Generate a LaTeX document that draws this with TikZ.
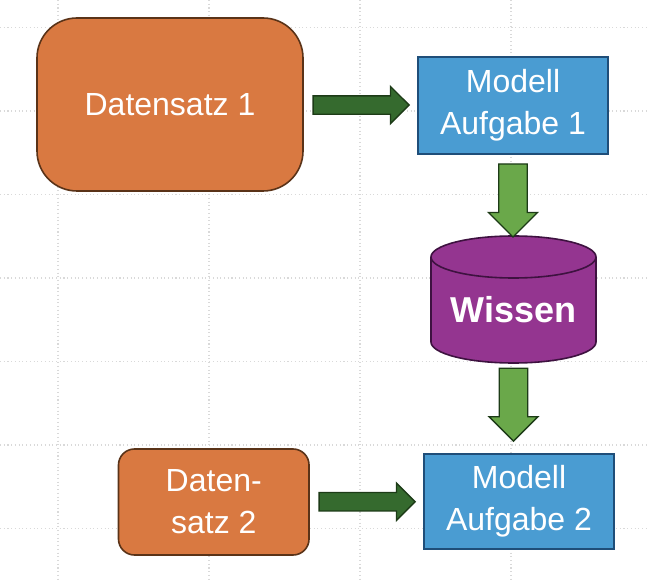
\documentclass[tikz,border=0pt]{standalone}
\usepackage{fontspec}
\setmainfont{Liberation Sans}
\usetikzlibrary{shapes.arrows,backgrounds}

\definecolor{datenorange}{HTML}{D97941}
\definecolor{datenrand}{HTML}{5A3318}
\definecolor{modellblau}{HTML}{4A9CD2}
\definecolor{modellrand}{HTML}{1F4E79}
\definecolor{wissenlila}{HTML}{943590}
\definecolor{wissenrand}{HTML}{3E1240}
\definecolor{pfeildunkel}{HTML}{356A2E}
\definecolor{pfeilhell}{HTML}{6AA84A}
\definecolor{pfeilrand}{HTML}{1D3B17}
\definecolor{raster}{HTML}{D9D9D9}

\tikzset{
  datenbox/.style={draw=datenrand, fill=datenorange, line width=1.2pt, text=white,
    inner sep=0pt, align=center, font=\fontsize{24}{31.5}\selectfont},
  modellbox/.style={draw=modellrand, fill=modellblau, line width=1.2pt, text=white,
    inner sep=0pt, align=center, minimum width=142.5pt,
    font=\fontsize{24}{31.5}\selectfont},
  speicher/.style={inner sep=0pt, outer sep=0pt, text=white,
    minimum width=123.75pt, minimum height=95.25pt, text height=35pt, text depth=0pt,
    font=\fontsize{27}{31}\selectfont\bfseries},
  zylinder/.style={draw=wissenrand, fill=wissenlila, line width=1.2pt},
  deckel/.style={x radius=61.875pt, y radius=15.75pt},
  pfeil/.style={single arrow, draw=pfeilrand, fill=pfeildunkel, line width=1pt,
    inner xsep=0pt, inner ysep=6.4pt, minimum width=27pt, minimum height=72pt,
    single arrow head indent=0pt, xshift=-3pt},
  pfeilab/.style={single arrow, draw=pfeilrand, fill=pfeilhell, line width=1pt,
    rotate=-90, inner xsep=0pt, inner ysep=9.4pt, minimum width=36.75pt,
    minimum height=54.75pt, single arrow head indent=0pt}
}

\begin{document}
\begin{tikzpicture}[x=0.75pt, y=-0.75pt]
  \useasboundingbox (0,0) rectangle (648,580);
  % dotted raster behind everything
  \begin{scope}[on background layer]
    \foreach \x in {58,209,360,511}
      \draw[raster, dotted, line width=0.8pt] (\x,0) -- (\x,580);
    \foreach \y in {27.5,111,194.5,278,361.5,445,528.5}
      \draw[raster, dotted, line width=0.8pt] (0,\y) -- (648,\y);
  \end{scope}

  \node[datenbox, rounded corners=30pt, minimum width=199.5pt, minimum height=129.75pt]
    (daten1) at (170,104.5) {Datensatz 1};
  \node[modellbox, minimum height=72.75pt] (modell1) at (513,105.5) {Modell\\Aufgabe 1};
  \node[speicher] (wissen) at (513.5,299.5) {Wissen};
  \node[modellbox, minimum height=71.25pt] (modell2) at (519,501.5) {Modell\\Aufgabe 2};
  \node[datenbox, rounded corners=12pt, minimum width=142.9pt, minimum height=79.5pt]
    (daten2) at (213.75,502) {Daten-\\satz 2};

  % cylinder round the Wissen node
  \begin{scope}[on background layer]
    \draw[zylinder] ([yshift=-15.75pt]wissen.north west)
      -- ([yshift=15.75pt]wissen.south west) arc[start angle=180, end angle=360, deckel]
      -- ([yshift=-15.75pt]wissen.north east) arc[start angle=0, end angle=180, deckel]
      -- cycle;
    \draw[zylinder, fill=none] ([yshift=-15.75pt]wissen.north west)
      arc[start angle=180, end angle=360, deckel];
  \end{scope}

  % block arrows between the boxes
  \path (daten1) -- node[pfeil] {} (modell1);
  \path (modell1.south) -- node[pfeilab, pos=0.475] {} (modell1.south |- wissen.north);
  \path (wissen.south) -- node[pfeilab, pos=0.383] {} (wissen.south |- modell2.north);
  \path (daten2) -- node[pfeil] {} (modell2);
\end{tikzpicture}
\end{document}
